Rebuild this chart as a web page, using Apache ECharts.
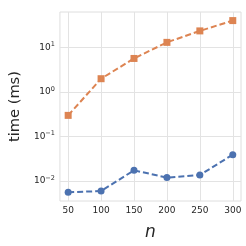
<!DOCTYPE html>
<html><head><meta charset="utf-8">
<script src="https://cdn.jsdelivr.net/npm/echarts@6/dist/echarts.min.js"></script>
<style>html,body{margin:0;padding:0;background:#fff}#c{width:246px;height:246px}</style>
</head><body><div id="c"></div>
<script>
const nValues = [50, 100, 150, 200, 250, 300];
const seriesA = [0.0056, 0.0060, 0.0175, 0.0120, 0.0137, 0.0394];
const seriesB = [0.30, 2.0, 5.7, 13.1, 23.7, 40.4];
const xTicks = [50, 100, 150, 200, 250, 300];
const yTicks = [0.01, 0.1, 1, 10];

const chart = echarts.init(document.getElementById('c'), null, {renderer: 'canvas'});
const font = 'DejaVu Sans';
function supLabel(v) {
  const e = Math.round(Math.log10(v));
  return '{b|10}{s|' + (e < 0 ? '\u2212' + (-e) : e) + '}';
}
chart.setOption({
  animation: false,
  grid: {left: 49, right: 5, top: 12, bottom: 37, show: true, borderColor: '#dedede', borderWidth: 1},
  xAxis: {
    type: 'value', min: 37.5, max: 312.5,
    name: 'n', nameLocation: 'middle', nameGap: 23,
    nameTextStyle: {fontFamily: font, fontStyle: 'italic', fontSize: 17, color: '#262626'},
    axisLine: {show: false}, axisTick: {show: false, customValues: xTicks},
    axisLabel: {customValues: xTicks, fontFamily: font, fontSize: 9, color: '#262626', margin: 5},
    splitLine: {show: true, lineStyle: {color: '#e3e3e3', width: 1}}
  },
  yAxis: {
    type: 'log', logBase: 10, min: 0.00358, max: 63,
    name: 'time (ms)', nameLocation: 'middle', nameGap: 30,
    nameTextStyle: {fontFamily: font, fontSize: 14.6, color: '#262626'},
    axisLine: {show: false}, axisTick: {show: false, customValues: yTicks},
    axisLabel: {customValues: yTicks, formatter: supLabel, margin: 5,
      rich: {b: {fontFamily: font, fontSize: 9, color: '#262626'},
             s: {fontFamily: font, fontSize: 6.5, color: '#262626', padding: [0, 0, 6, 0]}}},
    splitLine: {show: true, lineStyle: {color: '#e3e3e3', width: 1}}
  },
  series: [
    {type: 'line', data: nValues.map((n, i) => [n, seriesA[i]]), symbol: 'circle', symbolSize: 7,
     itemStyle: {color: '#4c72b0'}, lineStyle: {color: '#4c72b0', width: 2, type: [6, 3]}},
    {type: 'line', data: nValues.map((n, i) => [n, seriesB[i]]), symbol: 'rect', symbolSize: 7,
     itemStyle: {color: '#dd8452'}, lineStyle: {color: '#dd8452', width: 2, type: [6, 3]}}
  ]
});
</script></body></html>
